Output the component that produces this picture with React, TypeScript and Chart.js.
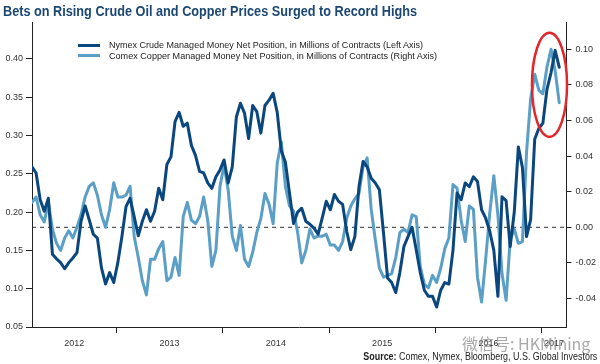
import React, { useEffect, useLayoutEffect, useRef } from 'react';
import { Chart, registerables } from 'chart.js';

Chart.register(...registerables);

// ---------------- data ----------------
const TITLE = 'Bets on Rising Crude Oil and Copper Prices Surged to Record Highs';
const LEGEND_LABELS = [
  'Nymex Crude Managed Money Net Position, in Millions of Contracts (Left Axis)',
  'Comex Copper Managed Money Net Position, in Millions of Contracts (Right Axis)',
];
const SOURCE_LABEL = 'Source:';
const SOURCE_TEXT = ' Comex, Nymex, Bloomberg, U.S. Global Investors';
const WATERMARK = '微信号: HKMining';

const START_YEAR = 2012.205; // first observation (fractional year)
const STEP_YEARS = 2 / 52; // two-week spacing
const X_MIN = 2012.205;
const X_MAX = 2017.235;
const YEAR_BOUNDARIES = [2013, 2014, 2015, 2016, 2017];
const YEAR_LABELS = ['2012', '2013', '2014', '2015', '2016', '2017'];

const LEFT_TICKS = [0.05, 0.1, 0.15, 0.2, 0.25, 0.3, 0.35, 0.4];
const RIGHT_TICKS = [-0.04, -0.02, 0, 0.02, 0.04, 0.06, 0.08, 0.1];
const LEFT_MIN = 0.05;
const LEFT_MAX = 0.448;
const RIGHT_MIN = -0.056;
const RIGHT_MAX = 0.1153;
const ZERO_LINE = [0, 0];

const CRUDE = [
  0.259, 0.251, 0.216, 0.201, 0.218, 0.145, 0.139, 0.134, 0.126, 0.134,
  0.140, 0.147, 0.188, 0.208, 0.190, 0.171, 0.166, 0.127, 0.106, 0.121,
  0.108, 0.134, 0.168, 0.207, 0.218, 0.194, 0.169, 0.188, 0.203, 0.188,
  0.201, 0.231, 0.216, 0.262, 0.272, 0.318, 0.330, 0.312, 0.316, 0.287,
  0.274, 0.253, 0.251, 0.238, 0.231, 0.246, 0.255, 0.268, 0.238, 0.259,
  0.324, 0.342, 0.329, 0.296, 0.339, 0.331, 0.303, 0.339, 0.346, 0.355,
  0.330, 0.280, 0.265, 0.225, 0.185, 0.200, 0.205, 0.188, 0.184, 0.179,
  0.171, 0.192, 0.214, 0.203, 0.223, 0.214, 0.210, 0.175, 0.151, 0.168,
  0.233, 0.266, 0.259, 0.244, 0.238, 0.229, 0.173, 0.114, 0.108, 0.095,
  0.121, 0.155, 0.168, 0.180, 0.151, 0.121, 0.098, 0.090, 0.090, 0.076,
  0.098, 0.108, 0.106, 0.150, 0.225, 0.216, 0.238, 0.233, 0.246, 0.240,
  0.203, 0.192, 0.175, 0.150, 0.090, 0.220, 0.215, 0.155, 0.200, 0.285,
  0.258, 0.168, 0.190, 0.295, 0.309, 0.316, 0.360, 0.382, 0.411, 0.389,
];

const COPPER = [
  0.014, 0.017, 0.007, 0.003, 0.014, -0.001, -0.009, -0.013, -0.006, -0.002,
  -0.006, 0.000, 0.007, 0.017, 0.023, 0.025, 0.018, 0.007, 0.000, 0.010,
  0.025, 0.017, 0.017, 0.018, 0.023, -0.005, -0.017, -0.030, -0.038, -0.018,
  -0.018, -0.012, -0.008, -0.030, -0.028, -0.017, -0.027, 0.006, 0.014, 0.004,
  0.002, 0.006, 0.017, 0.004, -0.022, -0.013, 0.023, 0.035, 0.021, -0.005,
  -0.013, 0.001, -0.018, -0.022, -0.014, -0.003, 0.005, 0.019, 0.013, 0.002,
  0.036, 0.048, 0.023, 0.012, 0.009, -0.003, -0.020, -0.013, -0.001, -0.006,
  -0.005, -0.005, -0.004, -0.010, -0.010, -0.013, -0.008, 0.005, 0.012, 0.016,
  0.019, 0.034, 0.039, 0.010, -0.007, -0.023, -0.028, -0.027, -0.026, -0.017,
  -0.003, -0.001, -0.003, 0.007, 0.006, -0.022, -0.032, -0.034, -0.027, -0.031,
  -0.023, -0.012, -0.006, 0.024, 0.022, 0.004, -0.008, 0.012, 0.010, -0.028,
  -0.042, -0.018, 0.008, 0.029, 0.007, -0.026, -0.041, -0.007, -0.001, -0.009,
  -0.008, 0.042, 0.072, 0.086, 0.077, 0.075, 0.090, 0.100, 0.088, 0.070,
];

// highlight ellipse, in data units (x: year, y: left axis)
const HIGHLIGHT = { x: 2017.075, y: 0.366, rx: 0.165, ry: 0.068 };

// ---------------- styles ----------------
const CRUDE_COLOR = '#0b477f';
const COPPER_COLOR = '#5b9fc7';
const AXIS_COLOR = '#222222';
const TEXT_COLOR = '#333333';
const TITLE_COLOR = '#1b4773';
const TICK_FONT = { family: '"Liberation Sans", Arial, sans-serif', size: 9 };

const ellipsePlugin = {
  id: 'highlightEllipse',
  afterDatasetsDraw(chart: any) {
    const { ctx, scales } = chart;
    const xs = scales.x;
    const ys = scales.y;
    const cx = xs.getPixelForValue(HIGHLIGHT.x);
    const cy = ys.getPixelForValue(HIGHLIGHT.y);
    const rx = Math.abs(xs.getPixelForValue(HIGHLIGHT.x + HIGHLIGHT.rx) - cx);
    const ry = Math.abs(ys.getPixelForValue(HIGHLIGHT.y + HIGHLIGHT.ry) - cy);
    ctx.save();
    ctx.beginPath();
    ctx.ellipse(cx, cy, rx, ry, 0, 0, Math.PI * 2);
    ctx.strokeStyle = '#e0282c';
    ctx.lineWidth = 2.5;
    ctx.stroke();
    ctx.restore();
  },
};

function FitText(props: { width: number; align?: 'left' | 'right'; style?: any; children: any }) {
  const ref = useRef<HTMLSpanElement>(null);
  useLayoutEffect(() => {
    const el = ref.current;
    if (!el) return;
    el.style.transform = 'none';
    const w = el.getBoundingClientRect().width;
    if (w > 0) el.style.transform = `scaleX(${props.width / w})`;
  });
  return (
    <span
      ref={ref}
      style={{
        display: 'inline-block',
        whiteSpace: 'nowrap',
        transformOrigin: props.align === 'right' ? 'right center' : 'left center',
        ...props.style,
      }}
    >
      {props.children}
    </span>
  );
}

export default function App() {
  const canvasRef = useRef<HTMLCanvasElement>(null);

  useEffect(() => {
    const canvas = canvasRef.current;
    if (!canvas) return;
    const crudePts = CRUDE.map((v, i) => ({ x: START_YEAR + i * STEP_YEARS, y: v }));
    const copperPts = COPPER.map((v, i) => ({ x: START_YEAR + i * STEP_YEARS, y: v }));
    const zeroPts = ZERO_LINE.map((v, i) => ({ x: i === 0 ? X_MIN : X_MAX, y: v }));
    const edges = [X_MIN, ...YEAR_BOUNDARIES, X_MAX];
    const mids = YEAR_LABELS.map((_, i) => (edges[i] + edges[i + 1]) / 2);

    const chart = new Chart(canvas, {
      type: 'line',
      data: {
        datasets: [
          {
            label: LEGEND_LABELS[0],
            data: crudePts,
            xAxisID: 'x',
            yAxisID: 'y',
            borderColor: CRUDE_COLOR,
            borderWidth: 3,
            pointRadius: 0,
            tension: 0,
            borderJoinStyle: 'round',
            borderCapStyle: 'round',
          },
          {
            label: LEGEND_LABELS[1],
            data: copperPts,
            xAxisID: 'x',
            yAxisID: 'y2',
            borderColor: COPPER_COLOR,
            borderWidth: 3,
            pointRadius: 0,
            tension: 0,
            borderJoinStyle: 'round',
            borderCapStyle: 'round',
          },
          {
            label: 'zero',
            data: zeroPts,
            xAxisID: 'x',
            yAxisID: 'y2',
            borderColor: '#333333',
            borderWidth: 1,
            borderDash: [4, 4],
            pointRadius: 0,
          },
        ],
      } as any,
      options: {
        animation: false,
        responsive: false,
        events: [],
        layout: { padding: { top: 22, left: 0, right: 0, bottom: 0 } },
        plugins: {
          legend: { display: false },
          tooltip: { enabled: false },
          title: { display: false },
        },
        scales: {
          x: {
            type: 'linear',
            position: 'bottom',
            weight: 0,
            min: X_MIN,
            max: X_MAX,
            afterBuildTicks: (s: any) => {
              s.ticks = YEAR_BOUNDARIES.map((v) => ({ value: v }));
            },
            ticks: { display: false },
            grid: { drawOnChartArea: false, drawTicks: true, tickLength: 6, color: AXIS_COLOR, lineWidth: 1 },
            border: { display: true, color: AXIS_COLOR, width: 1 },
            afterFit: (s: any) => {
              s.height = 7;
            },
          },
          x2: {
            type: 'linear',
            position: 'bottom',
            weight: 1,
            min: X_MIN,
            max: X_MAX,
            afterBuildTicks: (s: any) => {
              s.ticks = mids.map((v) => ({ value: v }));
            },
            ticks: {
              autoSkip: false,
              maxRotation: 0,
              padding: 4,
              color: TEXT_COLOR,
              font: TICK_FONT,
              callback: (_v: any, i: number) => YEAR_LABELS[i],
            },
            grid: { display: false, drawTicks: false },
            border: { display: false },
            afterFit: (s: any) => {
              s.height = 30;
            },
          },
          y: {
            type: 'linear',
            position: 'left',
            min: LEFT_MIN,
            max: LEFT_MAX,
            afterBuildTicks: (s: any) => {
              s.ticks = LEFT_TICKS.map((v) => ({ value: v }));
            },
            ticks: {
              padding: 3,
              color: TEXT_COLOR,
              font: TICK_FONT,
              callback: (v: any) => Number(v).toFixed(2),
            },
            grid: { drawOnChartArea: false, drawTicks: true, tickLength: 6, color: AXIS_COLOR, lineWidth: 1 },
            border: { display: true, color: AXIS_COLOR, width: 1 },
            afterFit: (s: any) => {
              s.width = 32;
            },
          },
          y2: {
            type: 'linear',
            position: 'right',
            min: RIGHT_MIN,
            max: RIGHT_MAX,
            afterBuildTicks: (s: any) => {
              s.ticks = RIGHT_TICKS.map((v) => ({ value: v }));
            },
            ticks: {
              padding: 4,
              color: TEXT_COLOR,
              font: TICK_FONT,
              callback: (v: any) => Number(v).toFixed(2),
            },
            grid: { drawOnChartArea: false, drawTicks: true, tickLength: 5, color: AXIS_COLOR, lineWidth: 1 },
            border: { display: true, color: AXIS_COLOR, width: 1 },
            afterFit: (s: any) => {
              s.width = 33.5;
            },
          },
        },
      } as any,
      plugins: [ellipsePlugin],
    });
    return () => chart.destroy();
  }, []);

  const legendFont = '9.5px "Liberation Sans", Arial, sans-serif';

  return (
    <div style={{ position: 'absolute', left: 0, top: 0, width: 600, height: 364, background: '#fff', overflow: 'hidden' }}>
      <canvas ref={canvasRef} width={600} height={364} style={{ position: 'absolute', left: 0, top: 0, width: 600, height: 364 }} />
      <div style={{ position: 'absolute', left: 3, top: 3, lineHeight: '14px', font: 'bold 14px "Liberation Sans", Arial, sans-serif', color: TITLE_COLOR }}>
        <FitText width={414}>{TITLE}</FitText>
      </div>
      {LEGEND_LABELS.map((lab, i) => (
        <div key={lab}>
          <div style={{ position: 'absolute', left: 78, top: 43.5 + i * 10.6, width: 22, height: 3, background: i === 0 ? CRUDE_COLOR : COPPER_COLOR }} />
          <div style={{ position: 'absolute', left: 109, top: 39 + i * 10.6, lineHeight: '12px', font: legendFont, color: '#222' }}>
            <FitText width={i === 0 ? 314 : 328}>{lab}</FitText>
          </div>
        </div>
      ))}
      <div style={{ position: 'absolute', left: 462, top: 331, lineHeight: '20px', font: '16px "Noto Sans CJK SC", sans-serif', color: 'rgba(140,140,140,0.75)' }}>
        {WATERMARK}
      </div>
      <div style={{ position: 'absolute', right: 3, top: 351, lineHeight: '12px', font: '10px "Liberation Sans", Arial, sans-serif', color: '#222', textAlign: 'right' }}>
        <FitText width={234} align="right">
          <b>{SOURCE_LABEL}</b>
          {SOURCE_TEXT}
        </FitText>
      </div>
    </div>
  );
}
